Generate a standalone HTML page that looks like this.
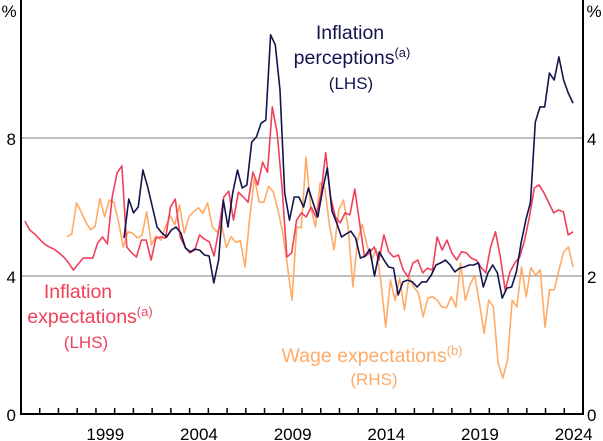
<!DOCTYPE html>
<html><head><meta charset="utf-8"><style>
html,body{margin:0;padding:0;background:#fff;}
svg{display:block;font-family:"Liberation Sans",Arial,sans-serif;}
</style></head><body>
<svg id="chart" width="603" height="441" viewBox="0 0 603 441">
<g id="grid"></g>
<g id="series"></g>
<g id="axes"></g>
<g id="labels">
 <text x="9" y="17" font-size="17" text-anchor="middle">%</text>
 <text x="594" y="17" font-size="17" text-anchor="middle">%</text>
 <g fill="#14144f" font-size="19.5" text-anchor="middle">
  <text x="350" y="39">Inflation</text>
  <text x="352" y="64">perceptions<tspan font-size="13" dy="-7">(a)</tspan></text>
  <text x="351" y="89" font-size="17">(LHS)</text>
 </g>
 <g fill="#f0405a" font-size="19.5" text-anchor="middle">
  <text x="78" y="298">Inflation</text>
  <text x="90" y="323">expectations<tspan font-size="13" dy="-7">(a)</tspan></text>
  <text x="86" y="348" font-size="17">(LHS)</text>
 </g>
 <g fill="#ffaa66" font-size="19.5" text-anchor="middle">
  <text x="372" y="362">Wage expectations<tspan font-size="13" dy="-7">(b)</tspan></text>
  <text x="374" y="385" font-size="17">(RHS)</text>
 </g>
</g>
</svg>
<script>
const leftTicks=[0,4,8];
const rightTickLabels=["0","2","4"];
const yearLabels=[1999,2004,2009,2014,2019,2024];
const expStart=1995.21, expEnd=2024.47;
const expectations=[5.59,5.33,5.22,5.07,4.93,4.84,4.78,4.67,4.55,4.38,4.17,4.35,4.52,4.52,4.52,4.96,5.13,4.93,6.29,6.99,7.19,4.84,4.67,4.55,5.04,5.04,4.46,5.10,5.13,5.10,6.00,6.23,5.13,4.84,4.67,4.75,5.19,5.07,4.99,4.58,5.39,6.29,6.46,5.62,6.43,6.29,6.14,7.01,6.64,7.30,7.01,8.90,8.14,6.58,4.55,4.67,5.62,5.83,5.71,6.00,5.71,6.35,7.57,6.29,5.71,5.54,5.83,5.77,6.52,5.54,4.55,4.67,4.84,4.46,5.19,4.70,4.55,4.61,4.17,3.97,4.38,4.46,4.09,4.23,4.17,5.13,4.75,5.04,4.67,4.46,4.70,4.67,4.52,4.46,4.26,4.09,4.84,5.28,4.55,3.59,4.12,4.38,4.55,5.04,5.71,6.55,6.64,6.41,6.12,5.83,5.91,5.86,5.19,5.28];
const percStart=2000.50, percEnd=2024.47;
const perceptions=[5.10,6.23,5.83,6.00,7.07,6.58,6.00,5.42,5.25,5.13,5.33,5.42,5.25,4.81,4.70,4.78,4.75,4.61,4.58,3.80,4.46,6.20,5.42,6.41,7.07,6.55,6.64,7.88,8.03,8.43,8.52,10.99,10.70,9.39,6.41,5.62,6.29,6.29,6.00,6.55,6.12,5.71,6.49,7.13,5.88,5.54,5.13,5.22,5.30,5.10,4.52,4.58,4.78,4.00,4.70,4.46,4.26,4.23,3.45,3.83,3.88,3.83,3.68,3.83,3.83,4.03,4.32,4.38,4.46,4.32,4.12,4.23,4.26,4.32,4.32,4.38,3.68,4.09,4.32,4.09,3.36,3.65,3.68,4.12,4.96,5.62,6.14,8.46,8.90,8.90,9.88,9.68,10.35,9.68,9.30,9.01];
const wageStart=1997.46, wageEnd=2024.47;
const wages=[2.57,2.61,3.06,2.93,2.78,2.67,2.72,3.12,2.86,3.10,3.07,2.78,2.42,2.64,2.62,2.55,2.59,2.93,2.45,2.58,2.52,2.71,2.88,2.74,3.03,2.62,2.86,2.93,2.99,2.91,3.06,2.71,2.64,2.74,2.41,2.57,2.49,2.51,2.13,2.86,3.43,3.07,3.07,3.30,3.22,2.96,2.64,2.16,1.65,2.71,2.70,3.72,3.00,2.71,3.35,3.28,2.74,2.38,2.96,3.10,2.70,1.84,2.52,2.75,2.45,2.23,2.39,1.90,1.26,1.94,1.65,1.97,1.51,1.99,1.84,1.75,1.41,1.68,1.70,1.65,1.55,1.54,1.70,1.55,2.19,1.65,1.87,2.01,1.61,1.17,1.65,1.55,0.74,0.52,0.78,1.65,1.55,2.13,1.70,2.12,2.01,2.09,1.26,1.80,1.80,2.09,2.35,2.42,2.13];

const NS="http://www.w3.org/2000/svg";
const X0=21,X1=583,Y0=414,YT=0,T0=1995,T1=2025;
const xS=t=>X0+(t-T0)/(T1-T0)*(X1-X0);
const yL=v=>Y0-v/12*(Y0-YT);
const yR=v=>Y0-v/6*(Y0-YT);
function mk(tag,attrs,parent){const e=document.createElementNS(NS,tag);for(const k in attrs)e.setAttribute(k,attrs[k]);parent.appendChild(e);return e;}
const grid=document.getElementById('grid'),axes=document.getElementById('axes'),ser=document.getElementById('series');
leftTicks.forEach((v,i)=>{
  if(v>0){const g=mk('line',{x1:X0,x2:X1,y1:yL(v),y2:yL(v),stroke:'#aaaaaa','stroke-width':1.5},grid);
  
  }
  const t=mk('text',{x:X0-5,y:yL(v)+7,'font-size':17,'text-anchor':'end'},axes);t.textContent=v;
  
  
  const r=mk('text',{x:X1+4,y:yL(v)+7,'font-size':17},axes);r.textContent=rightTickLabels[i];
  
  
});
function drawLine(vals,start,end,scale,color,name){
  const n=vals.length,step=(end-start)/(n-1);
  const d=vals.map((v,i)=>(i?'L':'M')+xS(start+i*step).toFixed(1)+','+scale(v).toFixed(1)).join('');
  const p=mk('path',{d:d,fill:'none',stroke:color,'stroke-width':1.6,'stroke-linejoin':'round'},ser);
  
  
}
drawLine(wages,wageStart,wageEnd,yR,'#ffaa66','wage-expectations-line');
drawLine(expectations,expStart,expEnd,yL,'#f0405a','inflation-expectations-line');
drawLine(perceptions,percStart,percEnd,yL,'#14144f','inflation-perceptions-line');
const ax=mk('path',{d:`M${X0},${YT}V${Y0}H${X1}V${YT}`,fill:'none',stroke:'#000','stroke-width':2},axes);


for(let y=T0+1;y<T1;y++){const tk=mk('line',{x1:xS(y),x2:xS(y),y1:Y0,y2:Y0-6,stroke:'#000','stroke-width':1.5},axes);
  
  }
yearLabels.forEach(y=>{const t=mk('text',{x:xS(y+0.5),y:440,'font-size':17,'text-anchor':'middle'},axes);t.textContent=y;
  
  });
</script>
</body></html>
